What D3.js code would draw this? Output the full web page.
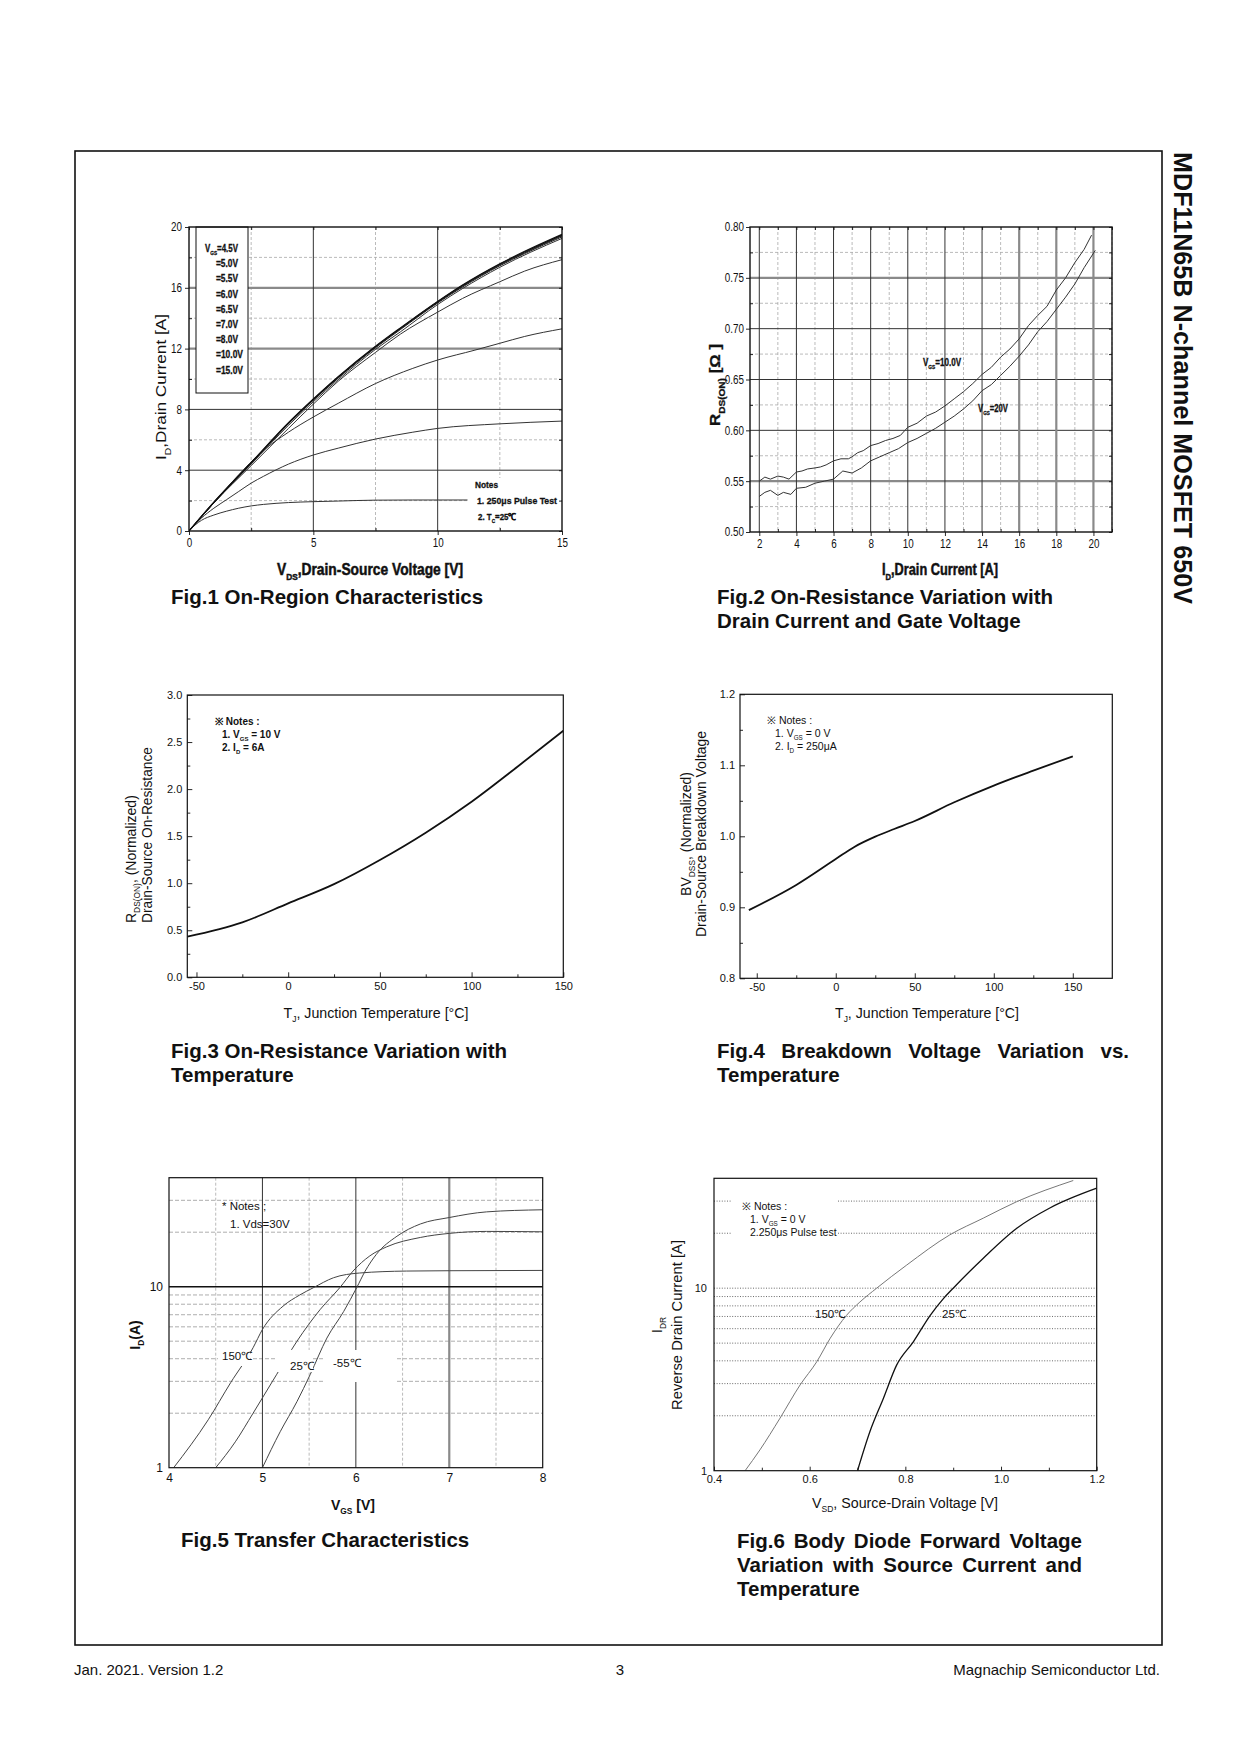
<!DOCTYPE html>
<html><head><meta charset="utf-8">
<script src="https://cdn.jsdelivr.net/npm/d3@7"></script>
<style>html,body{margin:0;padding:0;background:#fff;}</style>
</head><body>
<script>
// ---------------- DATA ----------------
// Fig.1 On-Region Characteristics
const fig1Legend = ["4.5V","5.0V","5.5V","6.0V","6.5V","7.0V","8.0V","10.0V","15.0V"];
const fig1XTicks = [0,5,10,15];
const fig1YTicks = [0,4,8,12,16,20];
const f1_45_v = [0,0.25,0.5,1,1.5,2,2.5,3,4,5,6,7.5,9,11.2];
const f1_45_i = [0,0.4,0.7,1.05,1.3,1.5,1.65,1.75,1.87,1.93,1.97,2.03,2.04,2.04];
const f1_50_v = [0,0.5,1,1.5,2,2.5,3,4,5,6,7.5,9,10,12.5,15];
const f1_50_i = [0,0.85,1.5,2.05,2.6,3.15,3.6,4.4,5.0,5.45,6.05,6.5,6.75,7.05,7.23];
const f1_55_v = [0,0.5,1,1.5,2,2.85,4,5,6,7.5,9,10,11.5,12.5,13.5,15];
const f1_55_i = [0,0.98,1.9,2.8,3.7,5.1,6.5,7.5,8.4,9.7,10.7,11.25,11.9,12.35,12.8,13.3];
const f1_60_v = [0,1,2.5,4,5,6,7.5,8.5,10,11,12.5,13.5,15];
const f1_60_i = [0,1.85,4.3,6.75,8.35,9.85,11.75,12.95,14.4,15.3,16.4,17.1,17.85];
const f1_65_v = [0,1,2.5,4,5,6,7.5,8.5,10,11,12.5,15];
const f1_65_i = [0,1.85,4.4,6.95,8.5,9.95,11.95,13.1,14.9,15.95,17.35,19.25];
const f1_70_v = [0,1,2.5,4,5,6,7.5,8.5,10,11,12.5,13.5,15];
const f1_70_i = [0,1.85,4.45,7.05,8.6,10.05,12.05,13.25,15.0,16.05,17.45,18.25,19.35];
const f1_80_i = [0,1.87,4.47,7.08,8.63,10.1,12.1,13.3,15.05,16.1,17.5,18.3,19.42];
const f1_100_i = [0,1.88,4.49,7.1,8.66,10.13,12.13,13.33,15.08,16.15,17.55,18.35,19.47];
const f1_150_i = [0,1.9,4.5,7.12,8.68,10.15,12.15,13.36,15.1,16.18,17.58,18.4,19.52];

// Fig.2 On-Resistance vs drain current
const fig2XTicks = [2,4,6,8,10,12,14,16,18,20];
const fig2YTicks = [0.50,0.55,0.60,0.65,0.70,0.75,0.80];
const f2_10_id = [2,2.3,2.6,3,3.3,3.6,4,4.3,4.6,5,5.3,5.6,6,6.4,6.8,7,7.3,7.6,8,8.4,8.8,9.2,9.6,10,10.5,11,11.5,12,12.5,13,13.5,14,14.5,15,15.5,16,16.5,17,17.5,18,18.5,19,19.5,19.9];
const f2_10_r = [.550,.554,.552,.555,.554,.552,.559,.560,.562,.563,.564,.566,.570,.572,.572,.574,.578,.580,.585,.587,.590,.592,.595,.603,.607,.614,.618,.624,.631,.638,.646,.655,.662,.672,.680,.690,.703,.713,.722,.738,.750,.765,.778,.792];
const f2_20_id = [2,2.3,2.6,3,3.3,3.7,4,4.5,5,5.5,6,6.5,7,7.5,8,8.5,9,9.5,10,10.5,11,11.5,12,12.5,13,13.5,14,14.5,15,15.5,16,16.5,17,17.5,18,18.5,19,19.5,20.1];
const f2_20_r = [.535,.539,.541,.536,.539,.537,.543,.544,.548,.550,.552,.560,.558,.563,.570,.574,.578,.582,.588,.592,.597,.602,.608,.614,.621,.629,.639,.645,.654,.663,.673,.684,.697,.707,.719,.731,.744,.760,.777];

// Fig.3 On-resistance vs temperature
const fig3XTicks = [-50,0,50,100,150];
const fig3YTicks = [0,0.5,1.0,1.5,2.0,2.5,3.0];
const f3_t = [-55,-25,0,25,50,75,100,125,150];
const f3_r = [0.432,0.584,0.786,0.99,1.247,1.537,1.866,2.238,2.62];

// Fig.4 Breakdown voltage vs temperature
const fig4XTicks = [-50,0,50,100,150];
const fig4YTicks = [0.8,0.9,1.0,1.1,1.2];
const f4_t = [-55,-25,0,12,25,37,50,75,100,125,150];
const f4_bv = [0.896,0.9315,0.968,0.9854,0.9995,1.0103,1.0216,1.0479,1.0714,1.0925,1.1127];

// Fig.5 Transfer characteristics
const fig5XTicks = [4,5,6,7,8];
const fig5YTicks = [1,10];
const f5_150_v = [4.05,4.42,4.66,4.9,5.0,5.22,5.4,5.55,5.76,6.04,6.54,7.0,8.0];
const f5_150_i = [1,1.84,2.95,4.6,5.8,7.8,9.0,9.9,11.2,11.9,12.2,12.25,12.3];
const f5_25_v = [4.5,4.71,4.9,5.15,5.37,5.62,5.83,5.97,6.15,6.33,6.69,7.0,7.4,8.0];
const f5_25_i = [1,1.39,2.0,3.26,5.0,7.5,9.9,12.2,14.8,16.6,18.7,19.7,20.2,20.1];
const f5_m55_v = [5.0,5.19,5.37,5.51,5.69,5.87,6.01,6.1,6.22,6.44,6.69,7.0,7.4,8.0];
const f5_m55_i = [1,1.58,2.32,3.26,5.2,7.3,9.9,12.2,15.1,19.0,22.2,24.1,25.9,26.6];

// Fig.6 Body diode forward voltage
const fig6XTicks = [0.4,0.6,0.8,1.0,1.2];
const fig6YTicks = [1,10];
const f6_150_v = [0.465,0.496,0.538,0.58,0.615,0.643,0.677,0.705,0.74,0.803,0.893,0.963,1.033,1.151];
const f6_150_i = [1,1.30,1.94,2.95,3.96,5.32,7.1,8.4,10.0,13.4,19.6,24.2,29.8,38.9];
const f6_25_v = [0.70,0.726,0.754,0.782,0.817,0.852,0.880,0.90,0.963,1.033,1.102,1.2];
const f6_25_i = [1,1.64,2.49,3.8,5.1,7.1,8.8,10.0,14.6,21.3,27.5,35.3];

// ---------------- DRAWING ----------------
const SANS = "'Liberation Sans', Arial, Helvetica, sans-serif";
const svg = d3.select("body").append("svg").attr("width",1240).attr("height",1754)
  .style("display","block").style("background","#fff");

function rich(g, x, y, parts, o) {
  const size = o.size;
  const t = g.append("text").attr("x",x).attr("y",y)
    .attr("font-family",o.family||SANS).attr("font-size",size)
    .attr("font-weight",o.weight||"normal").attr("text-anchor",o.anchor||"start")
    .attr("fill", o.fill||"#111");
  if (o.rotate) t.attr("transform",`rotate(${o.rotate},${x},${y})`);
  if (o.heavy) t.attr("stroke","#111").attr("stroke-width",o.heavy).attr("paint-order","stroke");
  let shift = 0;
  parts.forEach(p => {
    const isSub = typeof p !== "string";
    const txt = isSub ? p.sub : p;
    const target = isSub ? size*0.32 : 0;
    const ts = t.append("tspan").text(txt).attr("dy", target - shift);
    if (isSub) ts.attr("font-size", size*0.6);
    shift = target;
  });
  if (o.len) t.attr("textLength",o.len).attr("lengthAdjust","spacingAndGlyphs");
  return t;
}
function squeezeSel(sel, f) {
  sel.each(function(){
    const L = this.getComputedTextLength();
    d3.select(this).attr("textLength", L*f).attr("lengthAdjust","spacingAndGlyphs");
  });
}

function makePanel(b, xd, yd, ylog) {
  const x = d3.scaleLinear().domain(xd).range([b.l,b.r]);
  const y = (ylog ? d3.scaleLog() : d3.scaleLinear()).domain(yd).range([b.b,b.t]);
  const g = svg.append("g");
  const id = "clip" + Math.round(b.l) + "_" + Math.round(b.t);
  g.append("clipPath").attr("id",id).append("rect")
    .attr("x",b.l).attr("y",b.t).attr("width",b.r-b.l).attr("height",b.b-b.t);
  return {x,y,g,b,clip:`url(#${id})`};
}
const ST = {
  solid: {stroke:"#333", w:1, dash:null},
  thick: {stroke:"#8a8a8a", w:2.2, dash:null},
  black: {stroke:"#111", w:1.5, dash:null},
  dash:  {stroke:"#aaa", w:0.8, dash:"3,2"},
  dot:   {stroke:"#444", w:0.8, dash:"1,1.6"}
};
function hline(p, v, s, x0, x1) {
  p.g.append("line").attr("x1", x0!=null?x0:p.b.l).attr("x2", x1!=null?x1:p.b.r)
    .attr("y1", p.y(v)).attr("y2", p.y(v))
    .attr("stroke", s.stroke).attr("stroke-width", s.w).attr("stroke-dasharray", s.dash);
}
function vline(p, v, s) {
  p.g.append("line").attr("x1", p.x(v)).attr("x2", p.x(v))
    .attr("y1", p.b.t).attr("y2", p.b.b)
    .attr("stroke", s.stroke).attr("stroke-width", s.w).attr("stroke-dasharray", s.dash);
}
function curve(p, xs, ys, color, w, smooth) {
  const pts = xs.map((v,i)=>[v, ys[i]]);
  const line = d3.line().x(d=>p.x(d[0])).y(d=>p.y(d[1]))
    .curve(smooth ? d3.curveMonotoneX : d3.curveLinear);
  p.g.append("path").attr("d", line(pts)).attr("fill","none")
    .attr("stroke", color).attr("stroke-width", w).attr("stroke-linejoin","round")
    .attr("clip-path", p.clip);
}
function frame(p, w) {
  p.g.append("rect").attr("x",p.b.l).attr("y",p.b.t)
    .attr("width",p.b.r-p.b.l).attr("height",p.b.b-p.b.t)
    .attr("fill","none").attr("stroke","#111").attr("stroke-width", w||1.2);
}
function whiteBox(p, x, y, w, h) {
  p.g.append("rect").attr("x",x).attr("y",y).attr("width",w).attr("height",h).attr("fill","#fff");
}
function axis(p, orient, vals, size, fmt, pad, fsize, squeeze) {
  let a;
  if (orient==="left") a = d3.axisLeft(p.y);
  else if (orient==="right") a = d3.axisRight(p.y);
  else if (orient==="top") a = d3.axisTop(p.x);
  else a = d3.axisBottom(p.x);
  a.tickValues(vals).tickSizeInner(size).tickSizeOuter(0).tickPadding(pad||3)
   .tickFormat(fmt || (()=>""));
  const tr = orient==="left" ? `translate(${p.b.l},0)` :
             orient==="right" ? `translate(${p.b.r},0)` :
             orient==="top" ? `translate(0,${p.b.t})` : `translate(0,${p.b.b})`;
  const ag = p.g.append("g").attr("transform",tr).call(a);
  ag.select(".domain").remove();
  ag.selectAll("line").attr("stroke","#111").attr("stroke-width",0.9);
  ag.selectAll("text").attr("font-family",SANS).attr("font-size",fsize||11).attr("fill","#111");
  if (squeeze) squeezeSel(ag.selectAll("text"), squeeze);
  return ag;
}
const range = (a,b,s) => d3.range(a, b + s/2, s);

// ---- page frame and texts ----
svg.append("rect").attr("x",75).attr("y",151).attr("width",1087).attr("height",1494)
  .attr("fill","none").attr("stroke","#111").attr("stroke-width",1.6);
svg.append("text").attr("x",1174).attr("y",152)
  .attr("transform","rotate(90,1174,152)")
  .attr("font-family",SANS).attr("font-weight","bold").attr("font-size",25)
  .attr("textLength",452).attr("lengthAdjust","spacingAndGlyphs")
  .attr("fill","#111").text("MDF11N65B N-channel MOSFET 650V");
svg.append("text").attr("x",74).attr("y",1675).attr("font-family",SANS).attr("font-size",15)
  .attr("fill","#111").text("Jan. 2021. Version 1.2");
svg.append("text").attr("x",620).attr("y",1675).attr("font-family",SANS).attr("font-size",15)
  .attr("text-anchor","middle").attr("fill","#111").text("3");
svg.append("text").attr("x",1160).attr("y",1675).attr("font-family",SANS).attr("font-size",15)
  .attr("text-anchor","end").attr("fill","#111").text("Magnachip Semiconductor Ltd.");

function caption(x, y, txt, len) {
  const t = svg.append("text").attr("x",x).attr("y",y).attr("font-family",SANS)
    .attr("font-weight","bold").attr("font-size",20.5).attr("fill","#111").text(txt);
  if (len) {
    const L = t.node().getComputedTextLength();
    const n = (txt.match(/ /g)||[]).length;
    t.attr("word-spacing", (len - L) / n);
  }
}
caption(171, 604, "Fig.1 On-Region Characteristics");
caption(717, 604, "Fig.2 On-Resistance Variation with");
caption(717, 628, "Drain Current and Gate Voltage");
caption(171, 1058, "Fig.3 On-Resistance Variation with");
caption(171, 1082, "Temperature");
caption(717, 1058, "Fig.4 Breakdown Voltage Variation vs.", 412);
caption(717, 1082, "Temperature");
caption(181, 1547, "Fig.5 Transfer Characteristics");
caption(737, 1548, "Fig.6 Body Diode Forward Voltage", 345);
caption(737, 1572, "Variation with Source Current and", 345);
caption(737, 1596, "Temperature");

// ---- Fig.1 ----
{
  const p = makePanel({l:189,r:562,t:227,b:531},[0,15],[0,20]);
  [2,6,10,14,18].forEach(v=>hline(p,v,ST.dash));
  [2.5,7.5,12.5].forEach(v=>vline(p,v,ST.dash));
  [4,8].forEach(v=>hline(p,v,ST.solid));
  [12,16].forEach(v=>hline(p,v,ST.thick));
  [5,10].forEach(v=>vline(p,v,ST.solid));
  p.g.append("rect").attr("x",196).attr("y",227).attr("width",52).attr("height",166)
    .attr("fill","#fff").attr("stroke","#111").attr("stroke-width",1);
  whiteBox(p, 467, 478, 94, 48);
  curve(p,f1_45_v,f1_45_i,"#333",1,true);
  curve(p,f1_50_v,f1_50_i,"#333",1,true);
  curve(p,f1_55_v,f1_55_i,"#333",1,true);
  curve(p,f1_60_v,f1_60_i,"#333",1,true);
  curve(p,f1_65_v,f1_65_i,"#333",1,true);
  curve(p,f1_70_v,f1_70_i,"#222",1,true);
  curve(p,f1_70_v,f1_80_i,"#222",1,true);
  curve(p,f1_70_v,f1_100_i,"#111",1.1,true);
  curve(p,f1_70_v,f1_150_i,"#111",1.2,true);
  frame(p,1.4);
  axis(p,"left",fig1YTicks,4,d=>d,3,12,0.82);
  axis(p,"left",[2,6,10,14,18],-3);
  axis(p,"right",range(0,20,2),-3);
  axis(p,"bottom",fig1XTicks,4,d=>d,3,12,0.82);
  axis(p,"bottom",[2.5,7.5,12.5],-3);
  axis(p,"top",range(0,15,2.5),-3);
  fig1Legend.forEach((v,i)=>{
    const yy = 252 + i*15.2;
    if (i===0) rich(p.g,205,yy,["V",{sub:"GS"},"="+v],{size:10,weight:"bold",len:33,heavy:0.3});
    else rich(p.g,216,yy,["="+v],{size:10,weight:"bold",len: v.length>4 ? 27 : 22,heavy:0.3});
  });
  rich(p.g,475,488,["Notes"],{size:9.5,weight:"bold",len:23,heavy:0.3});
  rich(p.g,477,504,["1. 250\u03bcs  Pulse Test"],{size:9.5,weight:"bold",len:80,heavy:0.3});
  rich(p.g,478,520,["2. T",{sub:"C"},"=25\u2103"],{size:9.5,weight:"bold",len:38,heavy:0.3});
  rich(svg,166,387,["I",{sub:"D"},",Drain Current [A]"],{size:15,rotate:-90,anchor:"middle",len:146});
  rich(svg,370,575,["V",{sub:"DS"},",Drain-Source Voltage [V]"],{size:16,weight:"bold",anchor:"middle",len:186,heavy:0.5});
}

// ---- Fig.2 ----
{
  const p = makePanel({l:750,r:1112,t:227,b:532},[1.5,21],[0.50,0.80]);
  range(0.525,0.775,0.05).forEach(v=>hline(p,v,ST.dash));
  range(3,21,2).forEach(v=>vline(p,v,ST.dash));
  [0.60,0.65,0.70].forEach(v=>hline(p,v,ST.solid));
  [0.55,0.75].forEach(v=>hline(p,v,ST.thick));
  [2,4,6,8,10,12,14].forEach(v=>vline(p,v,ST.solid));
  [16,18,20].forEach(v=>vline(p,v,ST.thick));
  curve(p,f2_10_id,f2_10_r,"#333",1,false);
  curve(p,f2_20_id,f2_20_r,"#333",1,false);
  frame(p,1.4);
  axis(p,"left",fig2YTicks,4,d3.format(".2f"),2,12,0.82);
  axis(p,"left",range(0.525,0.775,0.05),-3);
  axis(p,"right",range(0.50,0.80,0.025),-3);
  axis(p,"bottom",fig2XTicks,4,d=>d,3,12,0.82);
  axis(p,"bottom",range(3,21,2),-3);
  axis(p,"top",range(2,21,1),-3);
  rich(p.g,923,366,["V",{sub:"GS"},"=10.0V"],{size:10,weight:"bold",len:38,heavy:0.3});
  rich(p.g,978,412,["V",{sub:"GS"},"=20V"],{size:10,weight:"bold",len:30,heavy:0.3});
  rich(svg,720,385,["R",{sub:"DS(ON)"}," [\u03a9 ]"],{size:15,weight:"bold",rotate:-90,anchor:"middle",len:82,heavy:0.3});
  rich(svg,940,575,["I",{sub:"D"},",Drain Current [A]"],{size:16,weight:"bold",anchor:"middle",len:116,heavy:0.5});
}

// ---- Fig.3 ----
{
  const p = makePanel({l:187.3,r:563.3,t:695,b:977.3},[-55,150],[0,3.0]);
  curve(p,f3_t,f3_r,"#111",1.8,true);
  frame(p,1.2);
  axis(p,"left",fig3YTicks,-5,d3.format(".1f"),5,11);
  axis(p,"left",range(0.25,2.75,0.5),-3);
  axis(p,"bottom",fig3XTicks,-5,d=>d,5,11);
  axis(p,"bottom",[-25,25,75,125],-3);
  rich(p.g,215,725,["\u203b  Notes :"],{size:10,weight:"bold"});
  rich(p.g,222,738,["1. V",{sub:"GS"}," = 10 V"],{size:10,weight:"bold"});
  rich(p.g,222,751,["2. I",{sub:"D"},"   = 6A"],{size:10,weight:"bold"});
  rich(svg,136,923,["R",{sub:"DS(ON)"},", (Normalized)"],{size:14,rotate:-90});
  rich(svg,152,923,["Drain-Source On-Resistance"],{size:14,rotate:-90,len:176});
  rich(svg,376,1018,["T",{sub:"J"},", Junction Temperature [\u00b0C]"],{size:14,anchor:"middle",len:185});
}

// ---- Fig.4 ----
{
  const p = makePanel({l:740,r:1112.3,t:694.3,b:978.3},[-60.6,175],[0.8,1.2]);
  curve(p,f4_t,f4_bv,"#111",1.8,true);
  frame(p,1.2);
  axis(p,"left",fig4YTicks,-5,d3.format(".1f"),5,11);
  axis(p,"left",range(0.85,1.15,0.1),-3);
  axis(p,"bottom",fig4XTicks,-5,d=>d,5,11);
  axis(p,"bottom",[-25,25,75,125],-3);
  rich(p.g,767,724,["\u203b  Notes :"],{size:10.5});
  rich(p.g,775,737,["1. V",{sub:"GS"}," = 0 V"],{size:10.5});
  rich(p.g,775,750,["2. I",{sub:"D"},"    = 250\u03bcA"],{size:10.5});
  rich(svg,691,834,["BV",{sub:"DSS"},", (Normalized)"],{size:14,rotate:-90,anchor:"middle"});
  rich(svg,706,834,["Drain-Source Breakdown Voltage"],{size:14,rotate:-90,anchor:"middle",len:206});
  rich(svg,927,1018,["T",{sub:"J"},", Junction Temperature [\u00b0C]"],{size:14,anchor:"middle",len:184});
}

// ---- Fig.5 ----
{
  const p = makePanel({l:169,r:542.7,t:1177.7,b:1467.7},[4,8],[1,40],true);
  [2,3,4,5,6,7,8,9,20,30].forEach(v=>hline(p,v,{stroke:"#999",w:0.8,dash:"4,2"}));
  [4.5,5.5,6.5,7.5].forEach(v=>vline(p,v,ST.dash));
  [5,6].forEach(v=>vline(p,v,ST.solid));
  vline(p,7,ST.thick);
  hline(p,10,ST.black);
  curve(p,f5_150_v,f5_150_i,"#444",1,true);
  curve(p,f5_25_v,f5_25_i,"#444",1,true);
  curve(p,f5_m55_v,f5_m55_i,"#444",1,true);
  whiteBox(p,218,1347,32,19);
  whiteBox(p,277,1350,36,22);
  whiteBox(p,323,1350,74,32);
  frame(p,1.2);
  axis(p,"left",fig5YTicks,0,d=>d,6,12);
  axis(p,"bottom",fig5XTicks,0,d=>d,6,12);
  rich(p.g,222,1210,["* Notes ;"],{size:11.5});
  rich(p.g,230,1228,["1. Vds=30V"],{size:11.5});
  rich(p.g,222,1360,["150\u2103"],{size:11.5});
  rich(p.g,290,1370,["25\u2103"],{size:11.5});
  rich(p.g,333,1367,["-55\u2103"],{size:11.5});
  rich(svg,140,1335,["I",{sub:"D"},"(A)"],{size:14,weight:"bold",rotate:-90,anchor:"middle"});
  rich(svg,353,1510,["V",{sub:"GS"}," [V]"],{size:14,weight:"bold",anchor:"middle"});
}

// ---- Fig.6 ----
{
  const p = makePanel({l:714,r:1096.7,t:1178.3,b:1470.7},[0.4,1.2],[1,40],true);
  [2,3,4,5,6,7,8,9,10].forEach(v=>hline(p,v,ST.dot));
  [20,30].forEach(v=>{ hline(p,v,ST.dot,714,732); hline(p,v,ST.dot,838,1096.7); });
  curve(p,f6_150_v,f6_150_i,"#777",1,true);
  curve(p,f6_25_v,f6_25_i,"#111",1.3,true);
  frame(p,1.2);
  axis(p,"left",fig6YTicks,0,d=>d,7,11);
  axis(p,"bottom",fig6XTicks,-4,d3.format(".1f"),5,11);
  axis(p,"bottom",[0.5,0.7,0.9,1.1],-3);
  rich(p.g,742,1210,["\u203b  Notes :"],{size:10.5});
  rich(p.g,750,1223,["1. V",{sub:"GS"}," = 0 V"],{size:10.5});
  rich(p.g,750,1236,["2.250\u03bcs Pulse test"],{size:10.5});
  rich(p.g,815,1318,["150\u2103"],{size:11.5});
  rich(p.g,942,1318,["25\u2103"],{size:11.5});
  rich(svg,662,1325,["I",{sub:"DR"}],{size:14,rotate:-90,anchor:"middle"});
  rich(svg,682,1325,["Reverse Drain Current [A]"],{size:14,rotate:-90,anchor:"middle",len:170});
  rich(svg,905,1508,["V",{sub:"SD"},", Source-Drain Voltage [V]"],{size:14,anchor:"middle",len:186});
}
</script>
</body></html>
